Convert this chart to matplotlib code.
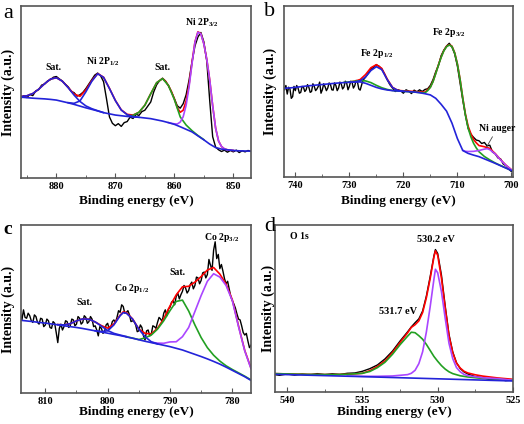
import numpy as np
import matplotlib
matplotlib.use('Agg')
import matplotlib.pyplot as plt
from matplotlib.ticker import MultipleLocator

plt.rcParams.update({
    'font.family': 'serif',
    'font.serif': ['Liberation Serif', 'DejaVu Serif'],
    'font.weight': 'bold',
    'mathtext.fontset': 'custom',
    'mathtext.rm': 'Liberation Serif:bold',
    'mathtext.it': 'Liberation Serif:bold',
    'mathtext.bf': 'Liberation Serif:bold',
    'mathtext.default': 'rm',
})

# intensities are read as % of the panel height (0 = bottom frame, 100 = top)

# ---- a: Ni 2p ----
a_data = [46.5, 47.8, 46.8, 48.6, 47.9, 50.6, 51.4, 54.0, 54.6, 56.4, 57.2, 58.6, 59.0,
          57.6, 56.4, 54.6, 53.0, 50.4, 49.6, 47.6, 48.4, 49.8, 52.0, 54.6, 57.2, 59.8,
          61.0, 59.4, 56.0, 46.0, 35.5, 31.8, 30.4, 31.6, 30.0, 32.2, 32.8, 35.4, 34.6,
          37.0, 36.4, 38.6, 39.4, 41.8, 44.2, 50.0, 54.2, 56.6, 58.0, 56.4, 53.6, 50.2,
          46.2, 42.0, 40.6, 43.2, 48.4, 57.0, 67.6, 76.8, 82.0, 84.6, 79.2, 68.0, 45.0,
          24.0, 18.0, 16.4, 15.4, 16.2, 15.0, 16.0, 15.2, 16.2, 14.8, 15.8, 15.2, 16.0, 15.4]
a_bg = [47.0, 46.7, 46.4, 46.2, 46.0, 45.7, 45.3, 44.5, 43.7, 42.8, 41.8, 40.8, 39.9, 39.0,
        38.0, 37.3, 36.6, 36.2, 35.8, 35.5, 35.3, 34.9, 34.5, 33.8, 33.1, 32.2, 31.2, 29.8,
        28.3, 26.8, 24.5, 22.2, 19.7, 17.7, 16.8, 16.4, 16.0, 15.8, 15.7, 15.6]
a_sat1 = [47.4, 47.8, 49.1, 51.6, 54.8, 57.5, 58.3, 56.3, 52.5, 48.2, 44.5, 41.9, 40.3, 39.1, 38.0]
a_p12 = [43.8, 43.4, 44.8, 50.1, 56.2, 60.6, 58.5, 52.0, 45.0, 39.5, 36.8, 35.7, 35.3]
a_sat2 = [36.0, 36.4, 38.2, 42.3, 49.0, 55.4, 57.8, 53.8, 45.7, 35.5, 30.8, 27.5, 24.7, 22.3]
a_p32 = [32.2, 31.8, 31.5, 31.4, 32.5, 35.6, 42.3, 53.0, 66.6, 78.9, 84.8, 83.8, 78.0, 69.0,
         57.0, 42.0, 29.0, 21.5, 18.3, 16.9, 16.4, 16.2, 16.0]
a_env_x = [886, 885, 884, 883, 882, 881, 880, 879, 878, 877, 876, 875, 874, 873, 872, 871,
           870, 869, 868, 867, 866, 865, 864, 863, 862, 861.5, 861, 860.5, 860, 859.5, 859,
           858.5, 858, 857.5, 857, 856.5, 856, 855.5, 855, 854.5, 854, 853.5, 853, 852.5,
           852, 851.5, 851, 850]
a_env = [47.4, 47.8, 49.1, 51.6, 54.8, 57.5, 58.3, 56.3, 52.6, 48.8, 47.5, 51.2, 56.6, 60.7,
         58.6, 52.1, 45.1, 39.6, 37.0, 36.6, 38.2, 42.3, 49.0, 55.4, 57.8, 56.2, 53.8, 50.3,
         46.0, 40.9, 38.2, 39.4, 44.8, 54.3, 67.3, 79.2, 85.0, 83.9, 78.1, 69.0, 57.0, 42.0,
         29.0, 21.5, 18.3, 16.9, 16.4, 16.0]

# ---- b: Fe 2p ----
# 742 -> 728.25 every 0.25 eV
b_data_flat = [51.0, 53.5, 48.5, 52.5,
               51.5, 46.0, 47.0, 53.0,
               50.5, 53.5, 52.0, 49.0,
               49.5, 53.0, 52.5, 50.0,
               51.0, 54.0, 52.5, 49.5,
               50.0, 54.5, 53.0, 50.5,
               51.5, 53.0, 55.5, 49.0,
               51.0, 54.5, 52.8, 50.5,
               52.0, 55.0, 54.2, 51.0,
               50.8, 55.0, 53.6, 50.5,
               52.0, 55.5, 54.4, 51.5,
               52.6, 56.0, 55.0, 51.0,
               53.0, 56.0, 55.4, 52.0,
               53.4, 56.5, 55.6, 51.5]
# 728 -> 700 every 0.5 eV
b_data_peaks = [50.8, 56.4, 58.4, 60.6, 63.0, 64.2, 65.6, 64.8, 63.2, 60.4, 57.0, 54.0, 52.0,
                50.0, 51.0, 50.4, 49.0, 51.0, 50.2, 48.8, 50.8, 49.8, 51.0, 50.0, 51.2, 51.6,
                53.6, 57.0, 61.6, 65.2, 71.0, 74.2, 76.6, 78.2, 76.0, 72.0, 65.0, 55.0, 45.0,
                36.0, 28.4, 25.0, 23.2, 21.6, 21.2, 19.6, 20.2, 18.2, 18.6, 14.6, 13.6, 11.2,
                10.6, 7.6, 6.6, 4.6, 3.2]
b_bg = [51.9, 52.1, 52.4, 52.8, 53.2, 53.5, 53.8, 54.1, 54.4, 54.7, 55.0, 55.2, 55.4, 55.5,
        55.6, 54.8, 53.6, 52.4, 51.5, 50.9, 50.5, 50.3, 50.1, 49.9, 49.7, 49.3, 48.7, 48.0,
        46.0, 42.5, 38.5, 31.5, 22.5, 15.5, 13.8, 12.8, 11.9, 10.6, 9.3, 8.0, 6.6, 5.2, 3.8]
b_p12 = [55.4, 55.6, 56.3, 58.5, 62.3, 64.5, 62.8, 57.0, 52.3, 50.6, 50.1]
b_green_x = [731, 730, 729, 728, 727, 726, 725, 724, 723, 722, 721, 720, 719, 718, 717, 716,
             715.5, 715, 714.5, 714, 713.5, 713, 712.5, 712, 711.5, 711, 710.5, 710, 709.5,
             709, 708.5, 708, 707.5, 707, 706.5, 706, 705, 704, 703, 702, 701, 700]
b_green = [55.3, 55.6, 56.0, 56.3, 56.2, 55.2, 53.6, 52.2, 51.2, 50.6, 50.3, 50.1, 49.9, 49.7,
           49.4, 49.2, 50.5, 52.4, 55.8, 60.5, 65.5, 70.0, 73.8, 76.2, 77.2, 76.3, 72.5, 66.0,
           57.0, 46.0, 36.0, 28.5, 23.5, 19.7, 17.0, 14.8, 12.0, 10.0, 8.2, 6.7, 5.3, 3.9]
b_auger_x = [709, 708.5, 708, 707, 706, 705, 704.5, 704, 703, 702, 701, 700]
b_auger = [15.6, 15.0, 14.9, 15.0, 15.5, 16.3, 16.6, 16.0, 13.5, 10.0, 6.8, 4.2]
b_env_x = [730, 729, 728, 727, 726, 725, 724, 723, 722, 721, 720, 719, 718, 717, 716, 715,
           714.5, 714, 713.5, 713, 712.5, 712, 711.5, 711, 710.5, 710, 709.5, 709, 708.5,
           708, 707.5, 707, 706.5, 706, 705, 704, 703, 702, 701, 700]
b_env = [55.6, 56.0, 57.0, 59.9, 63.9, 65.7, 63.5, 57.3, 52.4, 50.6, 50.4, 50.2, 50.0, 49.8,
         49.6, 52.6, 56.0, 60.7, 65.7, 70.2, 74.0, 76.4, 77.4, 76.5, 72.7, 66.2, 57.2, 46.2,
         36.6, 29.6, 25.4, 21.9, 20.0, 18.4, 17.7, 16.7, 13.7, 10.1, 6.9, 4.3]

# ---- c: Co 2p ----
# 814 -> 777 every 0.25 eV
c_data = [47.0, 43.5, 49.5, 45.0,
          44.5, 47.5, 46.0, 43.0,
          42.0, 46.5, 45.5, 42.0,
          41.0, 44.5, 44.0, 39.5,
          40.5, 44.0, 43.0, 39.0,
          38.5, 42.5, 41.5, 36.0,
          30.0, 38.5, 41.0, 37.5,
          39.5, 43.0, 42.5, 39.0,
          40.0, 44.0, 43.5, 40.0,
          41.0, 45.5, 44.5, 41.0,
          42.0, 46.0, 45.0, 41.5,
          42.5, 45.5, 44.0, 39.5,
          40.0, 37.5, 34.0, 39.5,
          38.5, 35.5, 36.5, 40.5,
          41.5, 38.0, 39.0, 42.5,
          43.5, 42.0, 45.0, 49.0,
          48.0, 52.5, 51.5, 47.5,
          48.0, 49.0, 46.5, 42.5,
          43.0, 42.5, 40.5, 36.5,
          37.0, 40.5, 39.0, 34.0,
          31.5, 37.0, 37.5, 34.0,
          35.0, 40.0, 39.5, 38.5,
          42.0, 45.0, 44.0, 42.5,
          47.5, 49.5, 46.0, 50.0,
          51.0, 54.0, 55.0, 52.5,
          57.5, 59.5, 56.0, 58.5,
          60.5, 64.0, 62.5, 59.5,
          61.0, 64.5, 66.0, 62.0,
          64.0, 69.0, 68.5, 65.0,
          67.0, 71.5, 72.0, 68.5,
          70.5, 79.5, 76.0, 73.0,
          85.0, 90.0, 80.0, 82.5,
          74.0, 76.5, 72.5, 68.0,
          65.0, 66.5, 62.0, 57.5,
          55.0, 53.0, 50.5, 47.0,
          44.0, 43.5, 40.0, 36.0,
          34.5, 35.5, 31.0, 27.0,
          28.5]
c_bg = [43.3, 42.9, 42.5, 42.0, 41.6, 41.1, 40.6, 40.0, 39.5, 39.0, 38.4, 37.7, 37.0, 36.3,
        35.6, 34.9, 34.2, 33.4, 32.6, 31.7, 30.8, 30.0, 29.2, 28.4, 27.6, 26.6, 25.6, 24.3,
        23.0, 21.7, 20.3, 18.8, 17.2, 15.4, 13.5, 11.6, 9.7, 7.5]
c_sat1 = [40.7, 40.5, 41.3, 42.9, 44.1, 43.9, 42.3, 39.8, 37.2, 35.5, 34.5, 33.6]
c_p12_x = [802, 801, 800, 799, 798, 797.5, 797, 796, 795, 794, 793, 792]
c_p12 = [37.0, 36.6, 37.0, 40.5, 46.0, 47.8, 47.5, 44.0, 38.0, 33.5, 30.5, 29.2]
c_sat2 = [33.5, 32.7, 31.8, 32.8, 34.5, 38.0, 43.0, 49.0, 54.5, 55.3, 48.8, 40.5, 33.0, 27.0,
          22.5, 19.0, 16.2, 14.0, 12.0, 10.0, 7.8]
c_p32 = [30.2, 29.7, 29.6, 30.4, 30.5, 33.5, 39.0, 48.5, 58.0, 66.5, 71.0, 69.0, 64.0, 55.0,
         39.5, 25.0, 14.5]
c_env_x = [808, 807, 806, 805, 804, 803, 802, 801, 800, 799, 798, 797.5, 797, 796, 795, 794,
           793, 792, 791, 790, 789, 788, 787, 786, 785, 784, 783, 782, 781, 780, 779, 778, 777]
c_env = [40.7, 40.5, 41.3, 42.9, 44.1, 43.9, 42.3, 40.1, 38.6, 41.1, 46.3, 48.3, 47.9, 44.1,
         38.1, 35.5, 35.2, 38.5, 44.2, 51.8, 58.4, 63.2, 63.5, 66.0, 69.3, 73.2, 74.7, 70.8,
         64.8, 55.5, 39.9, 25.3, 14.8]

# ---- d: O 1s ----
d_data_x = [540.8, 540.5, 540, 539.5, 539, 538.5, 538, 537.5, 537, 536.5, 536, 535.5, 535,
            534.5, 534, 533.5, 533, 532.5, 532, 531.75, 531.5, 531.25, 531, 530.75, 530.5,
            530.25, 530.15, 530, 529.75, 529.5, 529.25, 529, 528.75, 528.5, 528.25, 528,
            527.5, 527, 526.5, 526, 525.5, 525]
d_data = [10.4, 10.0, 10.8, 10.1, 10.7, 10.2, 11.0, 10.4, 10.9, 10.5, 11.2, 11.4, 12.4,
          14.0, 16.2, 19.8, 24.5, 30.5, 36.0, 39.0, 41.5, 43.8, 48.5, 57.5, 69.0, 81.5,
          85.3, 83.0, 70.0, 51.5, 34.5, 24.0, 17.5, 14.0, 12.0, 10.8, 9.2, 8.6, 7.3, 8.0,
          6.8, 7.2]
d_bg_x = [540.8, 535, 530, 525]
d_bg = [10.6, 9.2, 7.9, 6.6]
d_green_x = [540.8, 539, 537, 536, 535, 534.5, 534, 533.5, 533, 532.5, 532, 531.75, 531.5,
             531.25, 531, 530.75, 530.5, 530.25, 530, 529.75, 529.5, 529.25, 529, 528.5, 528,
             527, 526, 525]
d_green = [11.0, 10.6, 10.4, 10.6, 11.2, 12.3, 14.6, 17.8, 22.6, 28.3, 33.4, 35.8, 35.5,
           33.7, 31.6, 28.5, 24.9, 21.3, 18.4, 15.8, 13.7, 12.1, 11.0, 9.7, 9.0, 8.1, 7.6, 7.1]
d_mag_x = [536, 535, 534, 533.5, 533, 532.5, 532, 531.75, 531.5, 531.25, 531, 530.75, 530.5,
           530.25, 530.15, 530, 529.75, 529.5, 529.25, 529, 528.75, 528.5, 528.25, 528, 527.5,
           527, 526, 525]
d_mag = [9.6, 9.4, 9.4, 9.5, 9.6, 10.0, 10.4, 11.2, 13.0, 17.0, 24.1, 36.0, 51.0, 67.5, 73.5,
         71.4, 60.1, 44.1, 29.2, 20.0, 14.6, 12.1, 10.5, 9.8, 9.1, 8.5, 8.0, 7.0]
d_env_x = [540.8, 539, 537, 536, 535, 534.5, 534, 533.5, 533, 532.5, 532, 531.75, 531.5,
           531.25, 531, 530.75, 530.5, 530.25, 530.15, 530, 529.75, 529.5, 529.25, 529,
           528.75, 528.5, 528.25, 528, 527.5, 527, 526, 525]
d_env = [11.0, 10.6, 10.4, 10.6, 11.2, 12.8, 15.3, 18.6, 23.6, 29.6, 35.4, 38.7, 40.3, 42.6,
         47.6, 56.5, 67.9, 80.8, 84.5, 81.9, 68.1, 50.1, 33.6, 23.4, 17.3, 14.3, 12.4, 11.4,
         10.3, 9.5, 8.4, 7.6]

BLUE = '#2323d9'
GREEN = '#22a022'
RED = '#ff0000'
MAG = '#aa46ff'
FRAME = '#555555'


def grid(start, step, values):
    return start - step * np.arange(len(values))


def style(ax, xlim, major, minor, xl_y, yl_x):
    ax.set_xlim(*xlim)
    ax.set_ylim(0, 100)
    ax.xaxis.set_major_locator(MultipleLocator(major))
    ax.xaxis.set_minor_locator(MultipleLocator(minor))
    ax.set_yticks([])
    ax.tick_params(axis='x', which='both', direction='in', color=FRAME,
                   labelsize=7.5, pad=3)
    ax.tick_params(axis='x', which='major', length=3.5, width=0.8)
    ax.tick_params(axis='x', which='minor', length=2, width=0.6)
    for s in ax.spines.values():
        s.set_color(FRAME)
        s.set_linewidth(1.2)
    ax.set_xlabel('Binding energy (eV)', fontsize=9.5, fontweight='bold')
    ax.set_ylabel('Intensity (a.u.)', fontsize=10, fontweight='bold')
    ax.xaxis.set_label_coords(0.5, xl_y)
    ax.yaxis.set_label_coords(yl_x, 0.5)


W, H = 524, 424
fig = plt.figure(figsize=(W / 100, H / 100), dpi=100)


def box(l, t, r, b):
    return fig.add_axes([l / W, 1 - b / H, (r - l) / W, (b - t) / H])


lw_d = 1.0
lw_f = 1.2

# panel a
ax = box(21, 6, 251, 178)
ax.plot(grid(886, 0.5, a_data), a_data, color='black', lw=lw_d)
ax.plot(a_env_x, a_env, color=RED, lw=lw_f)
ax.plot(grid(868, 1, a_sat2), a_sat2, color=GREEN, lw=lw_f)
ax.plot(grid(861, 0.5, a_p32), a_p32, color=MAG, lw=lw_f)
ax.plot(grid(886, 1, a_sat1), a_sat1, color=BLUE, lw=lw_f)
ax.plot(grid(878, 1, a_p12), a_p12, color=BLUE, lw=lw_f)
ax.plot(grid(886, 1, a_bg), a_bg, color=BLUE, lw=lw_f)
style(ax, (886, 847), 10, 5, -0.10, -0.026)
ax.text(880.5, 64, 'Sat.', fontsize=7, ha='center', va='center')
ax.text(872.2, 67.5, r'Ni 2P$_{1/2}$', fontsize=7, ha='center', va='center')
ax.text(862.1, 64, 'Sat.', fontsize=7, ha='center', va='center')
ax.text(855.3, 90.5, r'Ni 2P$_{3/2}$', fontsize=7, ha='center', va='center')

# panel b
ax = box(284, 6, 513, 177)
b_x = np.concatenate([grid(742, 0.25, b_data_flat), grid(728, 0.5, b_data_peaks)])
ax.plot(b_x, b_data_flat + b_data_peaks, color='black', lw=lw_d)
ax.plot(b_env_x, b_env, color=RED, lw=lw_f)
ax.plot(b_green_x, b_green, color=GREEN, lw=lw_f)
ax.plot(b_auger_x, b_auger, color=MAG, lw=lw_f)
ax.plot(grid(730, 1, b_p12), b_p12, color=BLUE, lw=lw_f)
ax.plot(grid(742, 1, b_bg), b_bg, color=BLUE, lw=lw_f)
style(ax, (742.1, 699.7), 10, 5, -0.105, -0.031)
ax.text(724.9, 72.5, r'Fe 2p$_{1/2}$', fontsize=7, ha='center', va='center')
ax.text(711.6, 84.5, r'Fe 2p$_{3/2}$', fontsize=7, ha='center', va='center')
ax.annotate('Ni auger', xy=(704.6, 17.5), xytext=(702.6, 28.5), fontsize=7,
            ha='center', va='center',
            arrowprops=dict(arrowstyle='-', color='#444444', lw=0.6, shrinkA=1, shrinkB=0))

# panel c
ax = box(21, 225, 251, 393)
ax.plot(grid(814, 0.25, c_data), c_data, color='black', lw=lw_d)
ax.plot(c_env_x, c_env, color=RED, lw=lw_f)
ax.plot(grid(797, 1, c_sat2), c_sat2, color=GREEN, lw=lw_f)
ax.plot(grid(793, 1, c_p32), c_p32, color=MAG, lw=lw_f)
ax.plot(grid(808, 1, c_sat1), c_sat1, color=BLUE, lw=lw_f)
ax.plot(c_p12_x, c_p12, color=BLUE, lw=lw_f)
ax.plot(grid(814, 1, c_bg), c_bg, color=BLUE, lw=lw_f)
style(ax, (813.9, 777), 10, 5, -0.077, -0.026)
ax.text(803.7, 53.6, 'Sat.', fontsize=7, ha='center', va='center')
ax.text(796.1, 62, r'Co 2p$_{1/2}$', fontsize=7, ha='center', va='center')
ax.text(788.8, 71.5, 'Sat.', fontsize=7, ha='center', va='center')
ax.text(781.8, 92.3, r'Co 2p$_{3/2}$', fontsize=7, ha='center', va='center')

# panel d
ax = box(275, 225, 513, 392)
ax.plot(d_data_x, d_data, color='black', lw=lw_d)
ax.plot(d_env_x, d_env, color=RED, lw=lw_f)
ax.plot(d_green_x, d_green, color=GREEN, lw=lw_f)
ax.plot(d_mag_x, d_mag, color=MAG, lw=lw_f)
ax.plot(d_bg_x, d_bg, color=BLUE, lw=lw_f)
style(ax, (540.8, 525), 5, 2.5, -0.084, 0.0)
ax.text(539.2, 93, 'O 1s', fontsize=7, ha='center', va='center')
ax.text(530.1, 91.2, '530.2 eV', fontsize=7.5, ha='center', va='center')
ax.text(532.6, 48.2, '531.7 eV', fontsize=7.5, ha='center', va='center')

# panel letters
fig.text(8 / W, 1 - 14 / H, 'a', fontsize=16, fontweight='normal', ha='center', va='center')
fig.text(270 / W, 1 - 12 / H, 'b', fontsize=16, fontweight='normal', ha='center', va='center')
fig.text(8 / W, 1 - 229 / H, 'c', fontsize=14, fontweight='bold', ha='center', va='center')
fig.text(270 / W, 1 - 226 / H, 'd', fontsize=16, fontweight='normal', ha='center', va='center')

fig.savefig('out.png', dpi=100)
